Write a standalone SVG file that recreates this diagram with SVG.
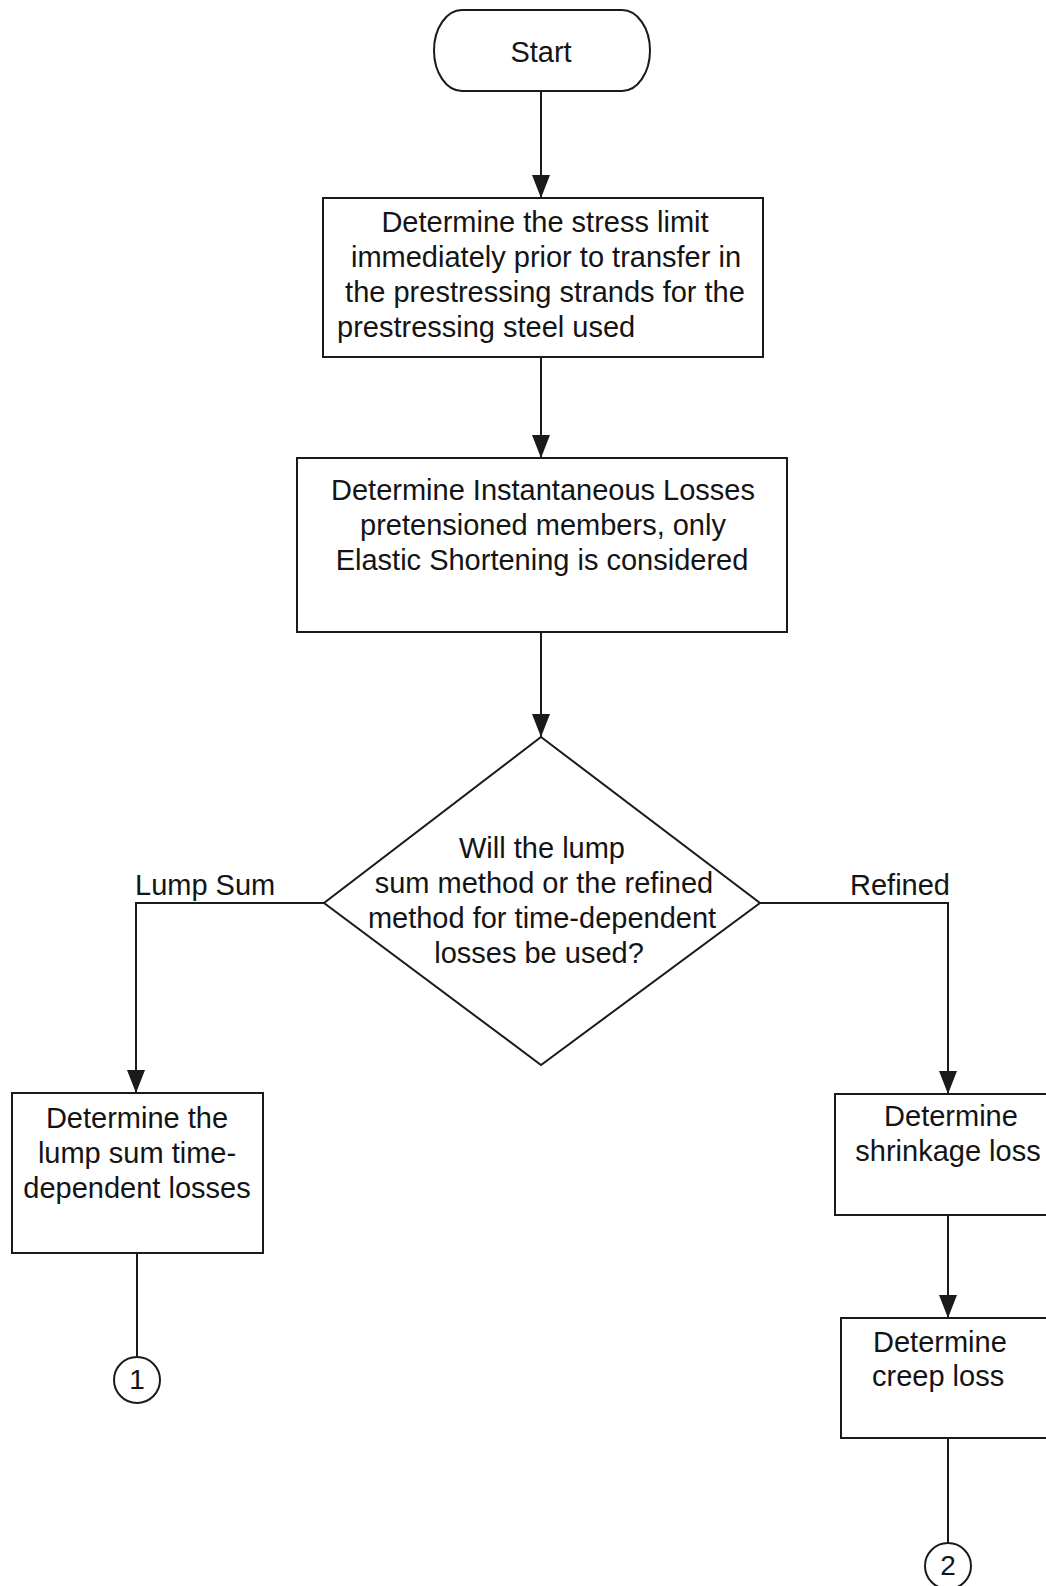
<svg xmlns="http://www.w3.org/2000/svg" width="1046" height="1586" viewBox="0 0 1046 1586">
  <style>
    .shape { fill: #ffffff; stroke: #1a1a1a; stroke-width: 2; }
    .wire { fill: none; stroke: #1a1a1a; stroke-width: 2; }
    text { font-family: "Liberation Sans", Arial, sans-serif; font-size: 29px; fill: #141414; }
    .mid { text-anchor: middle; }
  </style>
  <defs>
    <marker id="arrow" markerUnits="userSpaceOnUse" markerWidth="23" markerHeight="18" refX="23" refY="9" orient="auto">
      <path d="M0,0 L23,9 L0,18 z" fill="#1a1a1a"/>
    </marker>
  </defs>
  <rect width="1046" height="1586" fill="#ffffff"/>

  <!-- connectors -->
  <g id="connectors">
    <line class="wire" x1="541" y1="91" x2="541" y2="198" marker-end="url(#arrow)"/>
    <line class="wire" x1="541" y1="357" x2="541" y2="458" marker-end="url(#arrow)"/>
    <line class="wire" x1="541" y1="632" x2="541" y2="737" marker-end="url(#arrow)"/>
    <polyline class="wire" points="324,903 136,903 136,1093" marker-end="url(#arrow)"/>
    <polyline class="wire" points="760,903 948,903 948,1094" marker-end="url(#arrow)"/>
    <line class="wire" x1="137" y1="1253" x2="137" y2="1357"/>
    <line class="wire" x1="948" y1="1215" x2="948" y2="1318" marker-end="url(#arrow)"/>
    <line class="wire" x1="948" y1="1438" x2="948" y2="1543"/>
    <text x="135" y="895">Lump Sum</text>
    <text x="850" y="895">Refined</text>
  </g>

  <!-- start terminal -->
  <g id="start">
    <path class="shape" d="M462,10 H622 A28,40.5 0 0 1 622,91 H462 A28,40.5 0 0 1 462,10 Z"/>
    <text class="mid" x="541" y="62">Start</text>
  </g>

  <g id="stress-limit">
    <rect class="shape" x="323" y="198" width="440" height="159"/>
    <text class="mid" x="545" y="232">Determine the stress limit</text>
    <text class="mid" x="546" y="267">immediately prior to transfer in</text>
    <text class="mid" x="545" y="302">the prestressing strands for the</text>
    <text x="337" y="337">prestressing steel used</text>
  </g>

  <g id="instantaneous-losses">
    <rect class="shape" x="297" y="458" width="490" height="174"/>
    <text class="mid" x="543" y="500">Determine Instantaneous Losses</text>
    <text class="mid" x="543" y="535">pretensioned members, only</text>
    <text class="mid" x="542" y="570">Elastic Shortening is considered</text>
  </g>

  <g id="method-decision">
    <polygon class="shape" points="541,737 760,903 541,1065 324,903"/>
    <text class="mid" x="542" y="858">Will the lump</text>
    <text class="mid" x="544" y="893">sum method or the refined</text>
    <text class="mid" x="542" y="928">method for time-dependent</text>
    <text class="mid" x="539" y="963">losses be used?</text>
  </g>

  <g id="lump-sum-losses">
    <rect class="shape" x="12" y="1093" width="251" height="160"/>
    <text class="mid" x="137" y="1128">Determine the</text>
    <text class="mid" x="137" y="1163">lump sum time-</text>
    <text class="mid" x="137" y="1198">dependent losses</text>
  </g>

  <g id="connector-1">
    <circle class="shape" cx="137" cy="1380" r="23"/>
    <text class="mid" x="137" y="1389" style="font-size:28px">1</text>
  </g>

  <g id="shrinkage-loss">
    <rect class="shape" x="835" y="1094" width="225" height="121"/>
    <text class="mid" x="951" y="1126">Determine</text>
    <text class="mid" x="948" y="1161">shrinkage loss</text>
  </g>

  <g id="creep-loss">
    <rect class="shape" x="841" y="1318" width="219" height="120"/>
    <text x="873" y="1352">Determine</text>
    <text x="872" y="1386">creep loss</text>
  </g>

  <g id="connector-2">
    <circle class="shape" cx="948" cy="1566" r="23"/>
    <text class="mid" x="948" y="1575" style="font-size:28px">2</text>
  </g>
</svg>
